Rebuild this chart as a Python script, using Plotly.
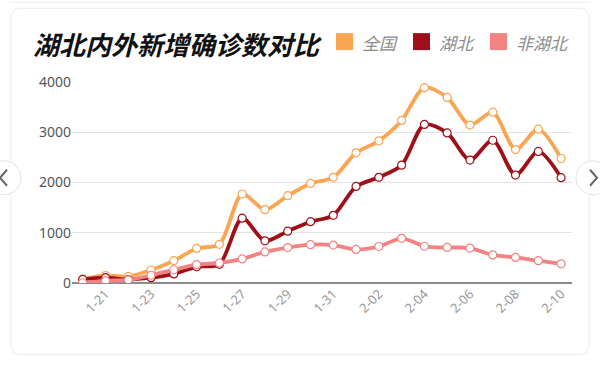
import plotly.graph_objects as go

dates = ["1-20", "1-21", "1-22", "1-23", "1-24", "1-25", "1-26", "1-27", "1-28", "1-29",
         "1-30", "1-31", "2-01", "2-02", "2-03", "2-04", "2-05", "2-06", "2-07", "2-08",
         "2-09", "2-10"]
national = [77, 149, 131, 259, 444, 688, 769, 1771, 1459, 1737, 1982, 2102, 2590, 2829,
            3235, 3887, 3694, 3143, 3399, 2656, 3062, 2478]
hubei = [72, 105, 69, 105, 180, 323, 371, 1291, 840, 1032, 1220, 1347, 1921, 2103,
         2345, 3156, 2987, 2447, 2841, 2147, 2618, 2097]
non_hubei = [5, 44, 62, 154, 264, 365, 398, 480, 619, 705, 762, 755, 669, 726,
             890, 731, 707, 696, 558, 509, 444, 381]
series_names = ["全国", "湖北", "非湖北"]
series_colors = ["#F9A552", "#9E0F18", "#F38383"]
tick_labels = dates[1::2]
y_ticks = [0, 1000, 2000, 3000, 4000]

W, H = 600, 365
L, R, T, B = 72, 28, 82, 81.5
pw, ph = W - L - R, H - T - B


def px(x):
    return (x - L) / pw


def py(y):
    return (H - B - y) / ph


fig = go.Figure()
for name, vals, col in zip(series_names, [national, hubei, non_hubei], series_colors):
    fig.add_trace(go.Scatter(
        x=dates, y=vals, name=name, mode="lines+markers",
        line=dict(color=col, width=3.8, shape="spline", smoothing=0.8),
        marker=dict(size=8, color="white", line=dict(color=col, width=1.2)),
        showlegend=False,
    ))

shapes = []


def rrect(x0, y0, x1, y1, r):
    return (f"M {px(x0 + r)},{py(y0)} L {px(x1 - r)},{py(y0)} "
            f"Q {px(x1)},{py(y0)} {px(x1)},{py(y0 + r)} L {px(x1)},{py(y1 - r)} "
            f"Q {px(x1)},{py(y1)} {px(x1 - r)},{py(y1)} L {px(x0 + r)},{py(y1)} "
            f"Q {px(x0)},{py(y1)} {px(x0)},{py(y1 - r)} L {px(x0)},{py(y0 + r)} "
            f"Q {px(x0)},{py(y0)} {px(x0 + r)},{py(y0)} Z")


shapes.append(dict(type="path", xref="paper", yref="paper", path=rrect(11, 8, 589, 355, 10),
                   line=dict(color="#ebebeb", width=1), fillcolor="white", layer="below"))
shapes.append(dict(type="line", xref="paper", yref="paper", x0=px(10), x1=px(590), y0=py(2), y1=py(2),
                   line=dict(color="#f0f0f0", width=1), layer="below"))
# nav buttons
for cx, d in [(4, -1), (593, 1)]:
    r = 17
    shapes.append(dict(type="circle", xref="paper", yref="paper", x0=px(cx - r), x1=px(cx + r),
                       y0=py(178 + r), y1=py(178 - r), fillcolor="white",
                       line=dict(color="#e2e2e2", width=1)))
    tipx = cx + d * 4
    shapes.append(dict(type="path", xref="paper", yref="paper",
                       path=f"M {px(tipx - d * 7)},{py(170)} L {px(tipx)},{py(178)} L {px(tipx - d * 7)},{py(186)}",
                       line=dict(color="#666666", width=2)))

annotations = [dict(text="湖北内外新增确诊数对比", xref="paper", yref="paper", x=px(31), y=py(43),
                    xanchor="left", yanchor="middle", showarrow=False,
                    font=dict(family="Noto Sans CJK SC", size=26, color="#111111",
                              weight="bold", style="italic"))]

# legend (squares + labels)
legend_sq_x = [336, 413, 490]
for name, col, sx in zip(series_names, series_colors, legend_sq_x):
    shapes.append(dict(type="rect", xref="paper", yref="paper", x0=px(sx), x1=px(sx + 17),
                       y0=py(50), y1=py(33), fillcolor=col, line=dict(width=0)))
    annotations.append(dict(text=name, xref="paper", yref="paper", x=px(sx + 24), y=py(42),
                            xanchor="left", yanchor="middle", showarrow=False,
                            font=dict(family="Noto Sans CJK SC", size=17, color="#8c8c8c",
                                      style="italic")))

fig.update_layout(
    width=W, height=H, margin=dict(l=L, r=R, t=T, b=B, autoexpand=False),
    paper_bgcolor="white", plot_bgcolor="rgba(0,0,0,0)",
    shapes=shapes, annotations=annotations,
    font=dict(family="Noto Sans, Noto Sans CJK SC", color="#555555"),
    showlegend=False,
    xaxis=dict(type="category", categoryorder="array", categoryarray=dates,
               range=[-0.47, 21.48], showgrid=False, showline=False, zeroline=False,
               tickmode="array", tickvals=tick_labels, ticktext=tick_labels,
               tickangle=-45, tickfont=dict(size=13, color="#999999"), ticks="",
               automargin=False),
    yaxis=dict(range=[0, 4000], tickvals=y_ticks, showgrid=True, gridcolor="#e4e4e4",
               gridwidth=1, zeroline=True, zerolinecolor="#8c8c8c", zerolinewidth=1.5,
               showline=False, ticks="", tickfont=dict(size=14, color="#555555"),
               automargin=False),
)

fig.write_html("out.html", config={"displayModeBar": False},
               post_script="document.body.style.margin='0';document.body.style.overflow='hidden';")
